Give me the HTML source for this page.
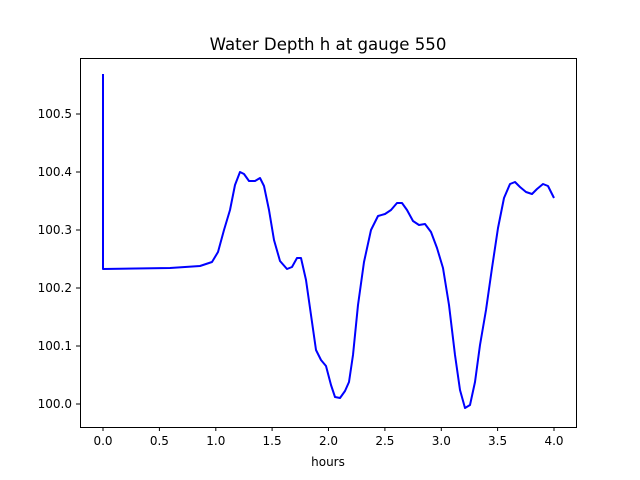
<!DOCTYPE html>
<html><head><meta charset="utf-8"><style>
html,body{margin:0;padding:0;background:#fff;}
svg{display:block;font-family:"DejaVu Sans","Liberation Sans",sans-serif;}
</style></head><body>
<svg width="640" height="480" viewBox="0 0 640 480" xmlns="http://www.w3.org/2000/svg">
<rect width="640" height="480" fill="#fff"/>
<text x="328" y="50" font-size="16.6" text-anchor="middle" fill="#000">Water Depth h at gauge 550</text>
<polyline fill="none" stroke="#0000ff" stroke-width="2" stroke-linejoin="round" points="103,74 103,269 170,268 200,266 212,262 218,252 224,230 230,210 235,185 240,172 244,174 249,181 255,181 260,178 264,186 269,210 274,240 280,261 287,269 292,267 297,258 301,258 306,280 311,315 316,350 321,360 326,366 331,385 335,397 340,398 345,391 349,382 353,355 358,305 364,262 371,230 378,216 385,214 391,210 397,203 402,203 407,210 413,221 419,225 425,224 431,232 437,248 443,268 449,305 455,355 460,390 465,408 470,405 475,382 480,345 486,310 492,268 498,228 504,198 510,184 515,182 520,187 526,192 532,194 537,189 543,184 548,186 554,198"/>
<rect x="80.5" y="58.5" width="496" height="369" fill="none" stroke="#000" stroke-width="1"/>
<g stroke="#000" stroke-width="1">
<line x1="103" y1="427" x2="103" y2="431"/><line x1="159.4" y1="427" x2="159.4" y2="431"/><line x1="215.8" y1="427" x2="215.8" y2="431"/><line x1="272.1" y1="427" x2="272.1" y2="431"/><line x1="328.5" y1="427" x2="328.5" y2="431"/><line x1="384.9" y1="427" x2="384.9" y2="431"/><line x1="441.3" y1="427" x2="441.3" y2="431"/><line x1="497.6" y1="427" x2="497.6" y2="431"/><line x1="554" y1="427" x2="554" y2="431"/>
<line x1="76" y1="404" x2="80" y2="404"/><line x1="76" y1="346" x2="80" y2="346"/><line x1="76" y1="288" x2="80" y2="288"/><line x1="76" y1="230" x2="80" y2="230"/><line x1="76" y1="172" x2="80" y2="172"/><line x1="76" y1="114" x2="80" y2="114"/>
</g>
<g font-size="12" fill="#000" text-anchor="middle">
<text x="103" y="445">0.0</text><text x="159.4" y="445">0.5</text><text x="215.8" y="445">1.0</text><text x="272.1" y="445">1.5</text><text x="328.5" y="445">2.0</text><text x="384.9" y="445">2.5</text><text x="441.3" y="445">3.0</text><text x="497.6" y="445">3.5</text><text x="554" y="445">4.0</text>
</g>
<g font-size="12" fill="#000" text-anchor="end">
<text x="72" y="408">100.0</text><text x="72" y="350">100.1</text><text x="72" y="292">100.2</text><text x="72" y="234">100.3</text><text x="72" y="176">100.4</text><text x="72" y="118">100.5</text>
</g>
<text x="328" y="466" font-size="12" text-anchor="middle" fill="#000">hours</text>
</svg>
</body></html>
